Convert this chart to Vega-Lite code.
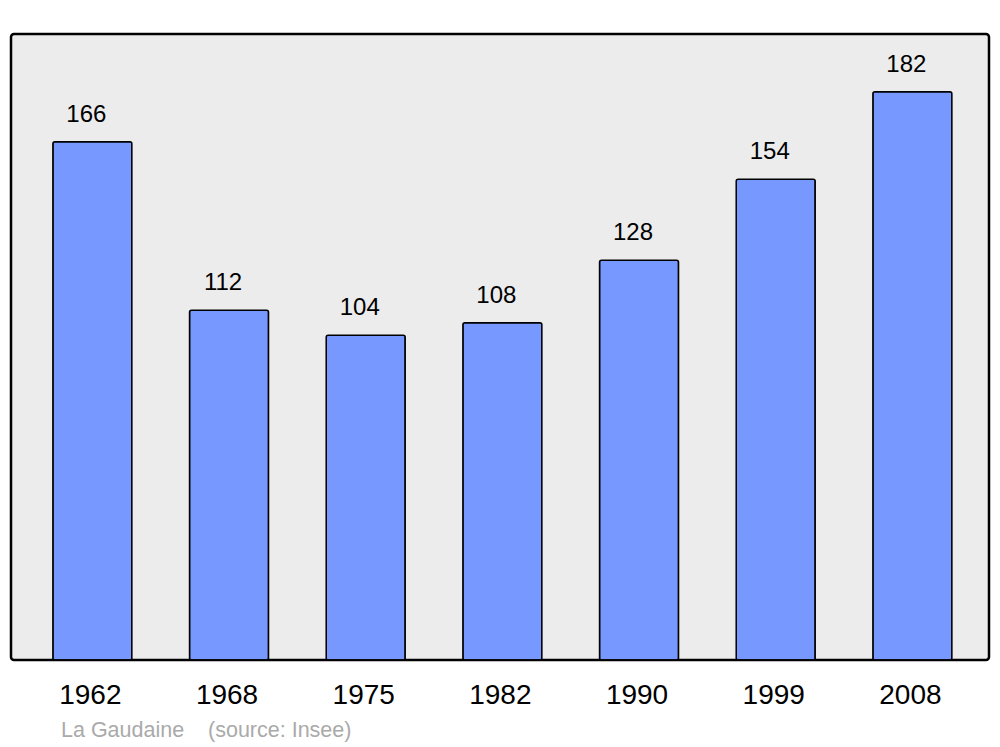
{
  "$schema": "https://vega.github.io/schema/vega-lite/v6.json",
  "autosize": "none",
  "width": 978,
  "height": 626,
  "padding": {"left": 11, "top": 34, "right": 11, "bottom": 87},
  "background": "white",
  "config": {
    "view": {"fill": "#ececec", "stroke": "#000000", "strokeWidth": 2.5, "cornerRadius": 3},
    "font": "Liberation Sans"
  },
  "title": {
    "text": "La Gaudaine\u00a0\u00a0\u00a0\u00a0(source: Insee)",
    "orient": "bottom",
    "anchor": "start",
    "dx": 50,
    "offset": 11,
    "fontSize": 21.5,
    "fontWeight": "normal",
    "color": "#aaaaaa",
    "font": "Liberation Sans"
  },
  "data": {
    "values": [
      {"year": "1962", "pop": 166},
      {"year": "1968", "pop": 112},
      {"year": "1975", "pop": 104},
      {"year": "1982", "pop": 108},
      {"year": "1990", "pop": 128},
      {"year": "1999", "pop": 154},
      {"year": "2008", "pop": 182}
    ]
  },
  "encoding": {
    "x": {
      "field": "year",
      "type": "ordinal",
      "sort": null,
      "scale": {"paddingInner": 0.422, "paddingOuter": 0.289, "align": 0.53},
      "axis": {
        "title": null,
        "domain": false,
        "ticks": false,
        "labelAngle": 0,
        "labelFontSize": 28,
        "labelColor": "#000000",
        "labelPadding": 21,
        "labelOffset": -2,
        "labelFont": "Liberation Sans"
      }
    },
    "y": {
      "field": "pop",
      "type": "quantitative",
      "scale": {"domain": [0, 200.5], "nice": false},
      "axis": null
    }
  },
  "layer": [
    {
      "mark": {"type": "bar", "fill": "#7799ff", "stroke": "#000000", "strokeWidth": 1.5, "cornerRadius": 2}
    },
    {
      "mark": {"type": "text", "baseline": "bottom", "dy": -15, "dx": -6, "fontSize": 24, "color": "#000000", "font": "Liberation Sans"},
      "encoding": {"text": {"field": "pop", "type": "quantitative"}}
    }
  ]
}
